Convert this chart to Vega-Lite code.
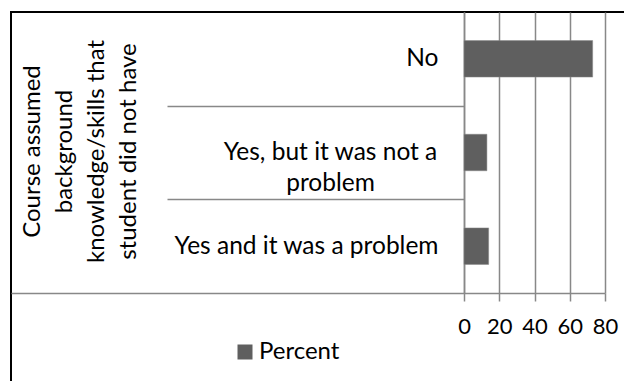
{
  "$schema": "https://vega.github.io/schema/vega-lite/v6.json",
  "width": 618,
  "height": 375,
  "padding": {"left": 11, "top": 12, "right": -5, "bottom": -6},
  "autosize": {"type": "none"},
  "background": "white",
  "config": {
    "view": {"stroke": "#000000", "strokeWidth": 2},
    "font": "Lato",
    "axis": {"labelColor": "#000000", "titleColor": "#000000", "domainColor": "#888888", "tickColor": "#888888", "gridColor": "#888888", "domainWidth": 1.5, "tickWidth": 1.5, "gridWidth": 1.5}
  },
  "data": {
    "values": [
      {"answer": "No", "percent": 73},
      {"answer": "Yes, but it was not a problem", "percent": 13},
      {"answer": "Yes and it was a problem", "percent": 14}
    ]
  },
  "encoding": {
    "y": {
      "field": "answer",
      "type": "nominal",
      "sort": null,
      "scale": {"range": [0, 281], "paddingInner": 0, "paddingOuter": 0},
      "axis": {
        "orient": "left",
        "offset": -453,
        "tickBand": "extent",
        "tickSize": {"condition": {"test": "datum.value === 'Yes and it was a problem'", "value": 453}, "value": 297},
        "tickOpacity": {"condition": {"test": "datum.value !== 'No' && datum.value !== 'Yes, but it was not a problem' && datum.value !== 'Yes and it was a problem'", "value": 0}, "value": 1},
        "labelFontSize": 24.5,
        "labelLineHeight": 31,
        "labelLimit": 0,
        "labelExpr": "datum.value === 'Yes, but it was not a problem' ? ['Yes, but it was not a', 'problem'] : datum.value",
        "labelAlign": {"condition": {"test": "datum.value === 'Yes, but it was not a problem'", "value": "center"}, "value": "right"},
        "labelPadding": {
          "condition": [
            {"test": "datum.value === 'Yes, but it was not a problem'", "value": -163},
            {"test": "datum.value === 'Yes and it was a problem'", "value": -427}
          ],
          "value": -271
        },
        "title": ["Course assumed", "background", "knowledge/skills that", "student did not have"],
        "titleFontSize": 24,
        "titleFontWeight": "normal",
        "titleLineHeight": 32,
        "titleAngle": -90,
        "titleAlign": "center",
        "titleBaseline": "alphabetic",
        "titleX": -425,
        "titleY": 139
      }
    }
  },
  "layer": [
    {
      "mark": {"type": "bar", "height": {"band": 0.39}, "stroke": "#8a8a8a", "strokeWidth": 0.5},
      "encoding": {
        "x": {
          "field": "percent",
          "type": "quantitative",
          "scale": {"domain": [0, 80], "range": [453, 594], "nice": false},
          "axis": {
            "orient": "bottom",
            "offset": -94,
            "values": [0, 20, 40, 60, 80],
            "grid": false,
            "tickSize": 8,
            "labelFontSize": 22,
            "labelPadding": 15,
            "labelOverlap": false,
            "labelFlush": false,
            "title": null
          }
        },
        "color": {
          "datum": "Percent",
          "scale": {"range": ["#5f5f5f"]},
          "legend": {
            "orient": "none",
            "legendX": 222,
            "legendY": 328,
            "title": null,
            "symbolType": "square",
            "symbolSize": 225,
            "symbolStrokeWidth": 0,
            "labelFontSize": 24,
            "labelColor": "#000000",
            "labelOffset": 2,
            "padding": 0
          }
        }
      }
    },
    {
      "mark": {"type": "bar", "height": {"band": 0.39}, "opacity": 0},
      "encoding": {
        "x": {
          "field": "percent",
          "type": "quantitative",
          "axis": {
            "orient": "top",
            "values": [0, 20, 40, 60, 80],
            "domain": false,
            "labels": false,
            "grid": false,
            "tickSize": -281,
            "title": null
          }
        }
      }
    }
  ],
  "resolve": {"axis": {"x": "independent"}}
}
